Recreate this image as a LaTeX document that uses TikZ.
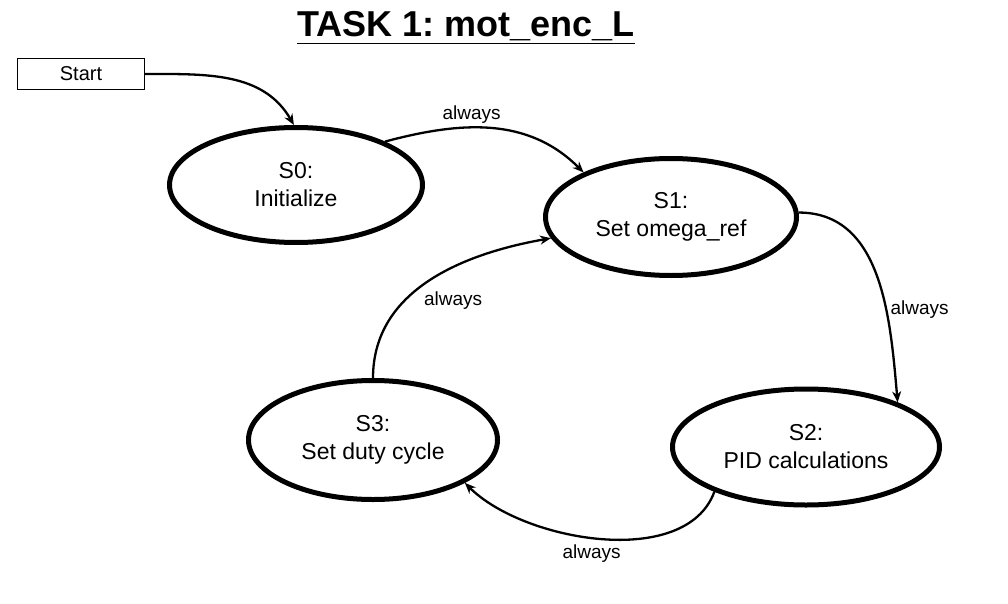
\documentclass[tikz,border=0pt]{standalone}
\usepackage{fontspec}
\setmainfont{Liberation Sans}
\usepackage{tikz}
\usetikzlibrary{arrows.meta,shapes.geometric}

\begin{document}
\begin{tikzpicture}[x=10pt, y=10pt,
	statenode/.style={ellipse, draw, line width=5pt, inner sep=0pt, align=center, font=\fontsize{23}{28}\selectfont},
	startbox/.style={draw, line width=1.4pt, minimum width=127pt, minimum height=31pt, inner sep=0pt, font=\fontsize{20}{22}\selectfont},
	trans/.style={line width=2.3pt, -{Stealth[length=11pt,width=9pt]}},
	always/.style={font=\fontsize{19}{22}\selectfont}]
			\useasboundingbox (0,0) rectangle (100.8,-60.4);

			\node (title) at (46.6,-3.7) [anchor=base] {\fontsize{36}{40}\selectfont\bfseries\underline{TASK 1:\ mot\_enc\_L}};
			\node (start) at (8.1,-7.4) [startbox] {Start};
			\node (s0) at (29.6,-18.5) [statenode, minimum width=253pt, minimum height=115pt] {S0:\\Initialize};
			\node (s1) at (67.1,-21.7) [statenode, minimum width=251pt, minimum height=117pt] {S1:\\Set omega\_ref};
			\node (s2) at (80.6,-44.7) [statenode, minimum width=267pt, minimum height=116pt] {S2:\\PID calculations};
			\node (s3) at (37.3,-44.0) [statenode, minimum width=249pt, minimum height=119pt] {S3:\\Set duty cycle};

			\draw [trans] (start.east) to[out=0, in=120] (s0.92);
			\draw [trans] (s0.26) to[out=15, in=135] node[always, above, pos=0.4] {always} (s1.153);
			\draw [trans] (s1.2) to[out=0, in=95] node[always, right, pos=0.64] {always} (s2.26);
			\draw [trans] (s2.206) to[out=250, in=-45, looseness=0.85] node[always, below=3pt, pos=0.53] {always} (s3.335);
			\draw [trans] (s3.90) to[out=90, in=190] node[always, below right, pos=0.45] {always} (s1.190);
		\end{tikzpicture}
\end{document}
